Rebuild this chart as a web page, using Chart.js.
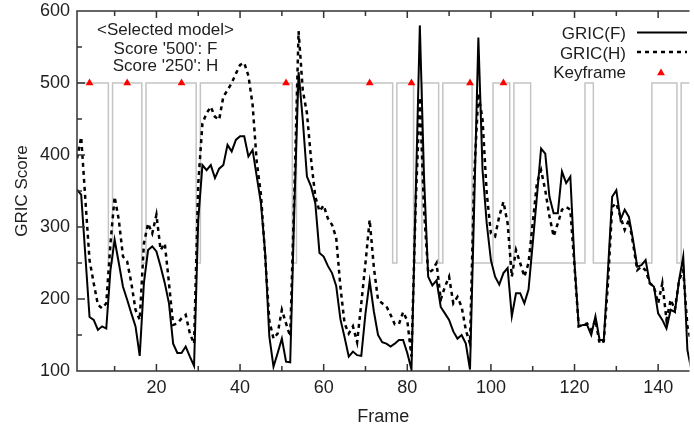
<!DOCTYPE html>
<html lang="en">
<head>
<meta charset="UTF-8">
<title>GRIC Score per Frame</title>
<script src="https://cdn.jsdelivr.net/npm/chart.js"></script>
<style>
  html, body { margin: 0; padding: 0; background: #fff; }
  #wrap { width: 694px; height: 428px; }
</style>
</head>
<body>
<div id="wrap"><canvas id="gricChart" width="694" height="428"></canvas></div>
<script>
// frame numbers (x axis)
const frames = Array.from({ length: 148 }, (_, i) => i + 1);

// GRIC score of the fundamental matrix model, one value per frame
const gricF = [
  352, 345, 260, 175, 171, 157, 162, 159, 240, 282,
  250, 217, 199, 180, 162, 121, 222, 268, 273, 266,
  245, 222, 194, 138, 125, 125, 134, 120, 107, 310,
  386, 379, 386, 368, 381, 386, 414, 405, 421, 426,
  426, 398, 407, 370, 333, 264, 148, 106, 125, 145,
  113, 112, 330, 515, 449, 370, 356, 333, 264, 259,
  246, 236, 218, 172, 147, 120, 127, 122, 121, 180,
  225, 183, 150, 140, 138, 134, 138, 143, 143, 125,
  102, 340, 580, 370, 231, 219, 226, 189, 180, 171,
  155, 145, 150, 138, 102, 330, 563, 379, 305, 254,
  231, 220, 236, 243, 176, 208, 208, 194, 213, 277,
  342, 409, 402, 342, 319, 319, 377, 361, 370, 250,
  162, 164, 164, 150, 176, 143, 143, 240, 342, 351,
  310, 324, 314, 282, 245, 247, 254, 222, 217, 180,
  171, 159, 185, 182, 226, 259, 129, 100
];

// GRIC score of the homography model
const gricH = [
  395, 425, 338, 254, 222, 192, 187, 194, 277, 342,
  310, 259, 252, 222, 185, 171, 277, 305, 291, 317,
  268, 277, 222, 164, 166, 173, 178, 152, 138, 360,
  444, 458, 467, 453, 449, 481, 490, 500, 513, 525,
  528, 510, 470, 390, 345, 260, 170, 145, 152, 185,
  166, 148, 350, 572, 490, 458, 393, 342, 322, 330,
  312, 303, 285, 217, 166, 152, 162, 140, 194, 250,
  310, 244, 199, 194, 190, 178, 165, 165, 182, 170,
  120, 330, 480, 324, 236, 240, 250, 199, 217, 231,
  194, 203, 189, 157, 138, 370, 486, 449, 347, 291,
  287, 315, 335, 305, 231, 268, 250, 231, 250, 305,
  361, 379, 351, 315, 287, 305, 324, 328, 324, 245,
  162, 164, 166, 157, 171, 138, 141, 222, 328, 333,
  314, 296, 310, 277, 240, 245, 240, 222, 217, 194,
  222, 171, 199, 185, 226, 240, 162, 138
];

// selected model per frame: 500 = F, 250 = H
const selectedModel = [
  500, 500, 500, 500, 500, 500, 500, 500, 250, 500,
  500, 500, 500, 500, 500, 500, 250, 500, 500, 500,
  500, 500, 500, 500, 500, 500, 500, 500, 500, 250,
  500, 500, 500, 500, 500, 500, 500, 500, 500, 500,
  500, 500, 500, 500, 500, 500, 500, 500, 500, 500,
  500, 500, 250, 500, 500, 500, 500, 500, 500, 500,
  500, 500, 500, 500, 500, 500, 500, 500, 500, 500,
  500, 500, 500, 500, 500, 500, 250, 500, 500, 500,
  500, 250, 250, 500, 500, 500, 500, 250, 500, 500,
  500, 500, 500, 500, 500, 250, 250, 250, 250, 250,
  500, 500, 500, 500, 250, 500, 500, 500, 500, 250,
  250, 250, 250, 250, 250, 250, 250, 250, 250, 250,
  250, 250, 500, 500, 250, 250, 250, 250, 250, 250,
  250, 250, 250, 250, 250, 250, 250, 250, 500, 500,
  500, 500, 500, 500, 250, 500, 500, 500
];

const keyframes = [4, 13, 26, 51, 71, 81, 95, 103];
const keyframeScore = 500;

const FONT = "'Liberation Sans', Arial, sans-serif";
const TEXT = '#1e1e1e';

function toPoints(values) {
  return frames.map((f, i) => ({ x: f, y: values[i] }));
}

function triangle(ctx, cx, cy, r) {
  ctx.beginPath();
  ctx.moveTo(cx, cy - r);
  ctx.lineTo(cx + r * 0.866, cy + r / 2);
  ctx.lineTo(cx - r * 0.866, cy + r / 2);
  ctx.closePath();
  ctx.fill();
}

// axis frame with inward ticks, legend and the note in the corner
const decor = {
  id: 'decor',
  afterDraw(chart) {
    const { ctx, chartArea: a, scales: { x, y } } = chart;
    ctx.save();
    ctx.strokeStyle = '#333';
    ctx.lineWidth = 1.5;
    ctx.beginPath();
    ctx.moveTo(a.right, a.top);
    ctx.lineTo(a.left, a.top);
    ctx.lineTo(a.left, a.bottom);
    ctx.lineTo(a.right, a.bottom);
    ctx.stroke();

    ctx.beginPath();
    x.ticks.forEach(t => {
      if (t.value % 10 !== 0) return;
      const px = x.getPixelForValue(t.value);
      const len = t.value % 20 === 0 ? 7 : 5;
      ctx.moveTo(px, a.bottom);
      ctx.lineTo(px, a.bottom - len);
      ctx.moveTo(px, a.top);
      ctx.lineTo(px, a.top + len);
    });
    y.ticks.forEach(t => {
      if (t.value % 50 !== 0 || t.value === y.min || t.value === y.max) return;
      const py = y.getPixelForValue(t.value);
      const len = t.value % 100 === 0 ? 8 : 5;
      ctx.moveTo(a.left, py);
      ctx.lineTo(a.left + len, py);
    });
    ctx.stroke();

    // note
    ctx.fillStyle = TEXT;
    ctx.font = '17px ' + FONT;
    ctx.textAlign = 'center';
    ctx.textBaseline = 'alphabetic';
    ctx.fillText('<Selected model>', 165.5, 35);
    ctx.fillText("Score '500': F", 165.5, 53.5);
    ctx.fillText("Score '250': H", 165.5, 71);

    // legend
    ctx.textAlign = 'right';
    ctx.fillText('GRIC(F)', 626, 38.5);
    ctx.fillText('GRIC(H)', 626, 58.5);
    ctx.fillText('Keyframe', 626, 78);
    ctx.strokeStyle = '#000';
    ctx.lineWidth = 2;
    ctx.beginPath();
    ctx.moveTo(637, 32.5);
    ctx.lineTo(687, 32.5);
    ctx.stroke();
    ctx.lineWidth = 2.5;
    ctx.setLineDash([4, 4]);
    ctx.beginPath();
    ctx.moveTo(637, 52);
    ctx.lineTo(687, 52);
    ctx.stroke();
    ctx.setLineDash([]);
    ctx.fillStyle = '#ff0000';
    triangle(ctx, 661, 73, 4.5);
    ctx.restore();
  }
};

new Chart(document.getElementById('gricChart'), {
  type: 'line',
  data: {
    datasets: [
      {
        label: 'GRIC(F)',
        data: toPoints(gricF),
        borderColor: '#000',
        borderWidth: 2,
        pointRadius: 0,
        tension: 0,
        order: 2
      },
      {
        label: 'GRIC(H)',
        data: toPoints(gricH),
        borderColor: '#000',
        borderWidth: 2.5,
        borderDash: [4, 4],
        pointRadius: 0,
        tension: 0,
        order: 3
      },
      {
        label: 'Keyframe',
        data: keyframes.map(f => ({ x: f, y: keyframeScore })),
        showLine: false,
        pointStyle: 'triangle',
        pointRadius: 4.5,
        pointBackgroundColor: '#ff0000',
        pointBorderWidth: 0,
        order: 1
      },
      {
        label: 'Selected model',
        data: toPoints(selectedModel),
        borderColor: '#c4c4c4',
        borderWidth: 1.5,
        pointRadius: 0,
        stepped: 'middle',
        order: 4
      }
    ]
  },
  options: {
    responsive: false,
    animation: false,
    layout: { padding: { top: 11, right: 0, left: 0, bottom: 0 } },
    plugins: { legend: { display: false }, tooltip: { enabled: false } },
    scales: {
      x: {
        type: 'linear',
        min: 1,
        max: 147.5,
        grid: { display: false, drawTicks: false },
        border: { display: false },
        ticks: {
          stepSize: 10,
          includeBounds: false,
          autoSkip: false,
          maxRotation: 0,
          padding: 6,
          color: TEXT,
          font: { family: FONT, size: 18 },
          callback: v => (v % 20 === 0 ? v : '')
        },
        title: {
          display: true,
          text: 'Frame',
          color: TEXT,
          font: { family: FONT, size: 18 },
          padding: { top: 0, bottom: 0 }
        },
        afterFit: s => { s.height = 57; s.paddingLeft = 0; s.paddingRight = 0; }
      },
      y: {
        min: 100,
        max: 600,
        grid: { display: false, drawTicks: false },
        border: { display: false },
        ticks: {
          stepSize: 50,
          autoSkip: false,
          padding: 7,
          color: TEXT,
          font: { family: FONT, size: 18 },
          callback: v => (v % 100 === 0 ? v : '')
        },
        title: {
          display: true,
          text: 'GRIC Score',
          color: TEXT,
          font: { family: FONT, size: 17 },
          padding: { top: 12, bottom: 0 }
        },
        afterFit: s => { s.width = 77; s.paddingTop = 0; s.paddingBottom = 0; }
      }
    }
  },
  plugins: [decor]
});
</script>
</body>
</html>
